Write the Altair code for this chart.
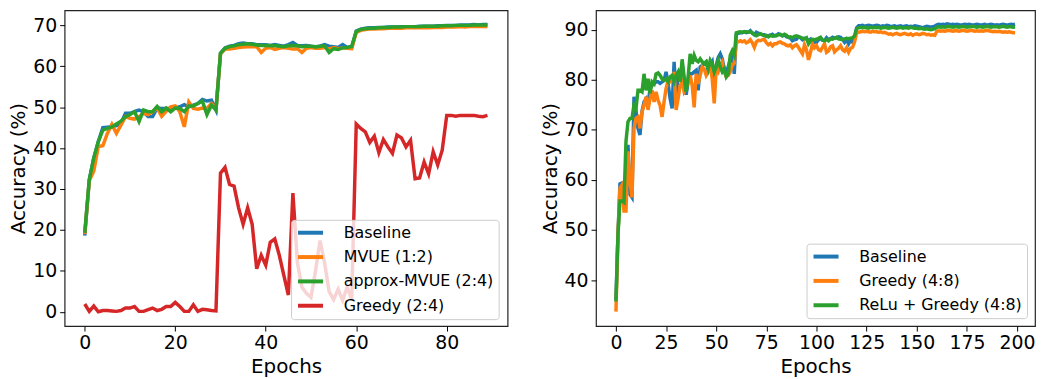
import altair as alt
import pandas as pd

# ---------------- Left panel data (90 epochs) ----------------
epochs_left = list(range(90))
names_left = ["Baseline", "MVUE (1:2)", "approx-MVUE (2:4)", "Greedy (2:4)"]
colors_left = ["#1f77b4", "#ff7f0e", "#2ca02c", "#d62728"]

baseline_left = [
    18.6, 32.3, 37.6, 41.6, 45.0, 45.1, 45.2, 45.5, 46.0, 48.5,
    48.5, 48.9, 49.3, 48.9, 47.7, 47.7, 49.8, 49.7, 49.7, 49.7,
    49.8, 50.1, 50.6, 50.1, 50.5, 50.9, 51.9, 51.5, 51.7, 49.3,
    63.2, 64.5, 64.9, 65.1, 65.5, 65.7, 65.5, 65.5, 65.3, 65.3,
    65.3, 65.1, 65.3, 65.1, 64.9, 65.3, 65.8, 65.1, 65.0, 65.1,
    64.9, 64.8, 64.9, 65.3, 64.9, 64.8, 64.6, 65.3, 64.6, 64.6,
    68.6, 69.1, 69.3, 69.4, 69.4, 69.5, 69.5, 69.6, 69.6, 69.6,
    69.7, 69.7, 69.7, 69.7, 69.8, 69.8, 69.8, 69.8, 69.9, 69.9,
    70.0, 70.0, 70.0, 70.1, 70.1, 70.1, 70.2, 70.1, 70.2, 70.2,
]
mvue_left = [
    19.0, 32.0, 34.4, 40.4, 40.6, 43.6, 45.8, 43.6, 45.6, 47.7,
    47.3, 47.1, 47.7, 48.5, 48.2, 48.9, 49.8, 47.8, 49.0, 50.1,
    50.3, 48.9, 45.2, 51.3, 49.7, 49.5, 49.8, 49.7, 50.9, 49.5,
    63.0, 64.2, 64.2, 64.4, 64.6, 64.7, 64.8, 64.8, 64.8, 63.4,
    64.4, 64.6, 64.1, 64.4, 64.6, 64.4, 64.2, 64.3, 63.4, 64.4,
    64.6, 64.4, 64.4, 64.6, 64.2, 64.6, 64.3, 64.5, 64.4, 64.3,
    68.3, 68.8, 69.0, 69.1, 69.1, 69.2, 69.2, 69.3, 69.3, 69.3,
    69.3, 69.4, 69.4, 69.4, 69.4, 69.5, 69.4, 69.5, 69.5, 69.5,
    69.6, 69.6, 69.6, 69.7, 69.6, 69.7, 69.7, 69.7, 69.7, 69.7,
]
approx_left = [
    19.3, 32.3, 37.6, 41.6, 44.4, 44.8, 45.2, 45.9, 46.6, 47.7,
    48.2, 48.9, 46.5, 49.3, 48.9, 48.9, 50.2, 48.9, 49.8, 48.9,
    49.8, 49.7, 48.9, 50.3, 50.3, 50.9, 51.5, 48.2, 50.5, 49.3,
    63.2, 64.4, 64.8, 65.0, 65.3, 65.4, 65.5, 65.4, 65.2, 65.1,
    65.1, 65.0, 65.1, 64.9, 64.8, 65.0, 65.1, 65.0, 64.8, 64.9,
    64.9, 64.7, 64.9, 65.0, 63.4, 64.3, 64.1, 64.5, 64.6, 64.9,
    68.5, 69.0, 69.2, 69.3, 69.3, 69.4, 69.5, 69.5, 69.6, 69.6,
    69.6, 69.7, 69.7, 69.7, 69.7, 69.8, 69.8, 69.8, 69.8, 69.9,
    69.9, 69.9, 70.0, 70.0, 70.0, 70.0, 70.1, 70.1, 70.1, 70.1,
]
greedy_left = [
    1.9, 0.1, 1.4, 0.0, 0.3, 0.3, 0.2, 0.1, 0.3, 0.9,
    0.9, 1.3, 0.1, 0.1, 0.5, 0.9, 0.3, 0.6, 1.3, 1.3,
    2.3, 1.3, 0.1, 0.1, 1.7, 0.1, 0.6, 0.5, 0.3, 0.2,
    33.9, 35.3, 31.1, 30.7, 25.4, 21.4, 25.4, 21.4, 10.5, 13.8,
    11.4, 17.0, 17.8, 13.8, 8.9, 4.1, 29.0, 12.0, 6.0, 4.5,
    3.5, 10.0, 17.4, 12.0, 5.0, 3.0, 5.5, 2.8, 6.0, 3.0,
    45.9, 44.8, 44.0, 41.4, 42.9, 38.9, 42.1, 40.3, 38.7, 43.2,
    42.5, 40.3, 41.9, 32.5, 32.7, 36.6, 33.7, 39.1, 35.9, 39.5,
    48.0, 48.0, 47.8, 48.0, 48.0, 48.0, 48.0, 47.8, 47.7, 48.0,
]

# ---------------- Right panel data (200 epochs) ----------------
epochs_right = list(range(200))
names_right = ["Baseline", "Greedy (4:8)", "ReLu + Greedy (4:8)"]
colors_right = ["#1f77b4", "#ff7f0e", "#2ca02c"]

baseline_right = [
    36.0, 49.0, 59.2, 59.4, 59.4, 56.0, 67.0, 57.1, 56.5, 76.6,
    73.7, 70.3, 69.0, 73.7, 75.6, 76.2, 75.0, 78.3, 78.9, 79.2,
    79.6, 79.6, 79.3, 79.6, 79.9, 81.6, 79.2, 76.3, 74.3, 83.6,
    76.3, 81.3, 79.9, 79.9, 79.6, 77.0, 79.6, 81.2, 81.2, 81.6,
    81.9, 77.9, 82.6, 82.9, 83.3, 83.6, 81.9, 82.9, 83.6, 79.6,
    82.9, 84.5, 85.2, 84.2, 82.2, 81.6, 82.6, 84.2, 84.9, 81.2,
    89.1, 89.3, 89.4, 89.4, 89.6, 89.4, 89.5, 89.8, 89.3, 89.0,
    89.5, 89.3, 89.2, 89.0, 89.0, 88.7, 88.8, 88.9, 89.1, 88.8,
    88.9, 89.2, 89.0, 88.8, 89.0, 88.6, 88.5, 88.3, 87.8, 88.0,
    88.1, 88.6, 88.4, 88.0, 88.3, 88.2, 87.8, 88.1, 87.2, 87.6,
    87.5, 88.0, 88.3, 87.9, 87.8, 88.4, 88.0, 88.2, 88.5, 88.3,
    88.4, 88.6, 88.5, 88.1, 87.5, 88.0, 87.2, 87.9, 87.5, 88.4,
    90.4, 90.8, 90.8, 90.9, 90.7, 90.8, 90.9, 90.8, 90.7, 90.8,
    90.9, 90.8, 90.6, 90.8, 90.7, 90.9, 90.8, 90.6, 90.7, 90.8,
    90.6, 90.7, 90.8, 90.6, 90.7, 90.8, 90.6, 90.7, 90.6, 90.8,
    90.7, 90.6, 90.5, 90.4, 90.6, 90.7, 90.6, 90.5, 90.6, 90.7,
    91.0, 91.1, 91.0, 91.1, 91.0, 91.2, 91.1, 91.0, 91.1, 91.0,
    91.1, 91.0, 90.9, 91.0, 91.1, 91.0, 91.1, 91.0, 90.9, 91.0,
    91.1, 91.0, 90.9, 91.0, 91.1, 90.9, 91.0, 91.1, 91.0, 90.9,
    91.0, 90.9, 91.0, 91.1, 91.0, 90.9, 91.0, 91.1, 91.0, 91.1,
]
greedy_right = [
    33.7, 49.0, 58.4, 59.0, 53.8, 53.8, 65.7, 59.7, 56.5, 70.3,
    72.3, 72.6, 70.3, 73.6, 74.9, 76.6, 74.0, 76.3, 77.9, 75.6,
    77.6, 75.9, 74.9, 72.6, 75.6, 78.3, 79.9, 79.6, 79.9, 81.6,
    74.0, 76.3, 78.9, 79.6, 77.6, 78.3, 79.6, 80.9, 78.9, 74.5,
    81.2, 79.2, 80.9, 82.6, 82.2, 80.9, 81.6, 82.9, 80.2, 75.3,
    82.2, 81.6, 82.9, 83.6, 81.6, 80.6, 80.9, 81.6, 82.9, 83.3,
    87.5, 87.6, 87.8, 87.6, 87.8, 87.4, 87.6, 88.0, 87.4, 86.5,
    87.6, 87.9, 87.8, 88.0, 88.1, 87.4, 87.0, 87.3, 86.8, 87.2,
    87.2, 87.5, 87.6, 87.3, 87.2, 86.9, 86.8, 87.0, 86.4, 86.8,
    87.0, 86.5, 85.8, 85.2, 87.0, 86.0, 84.0, 85.5, 87.2, 86.4,
    86.8, 86.0, 85.8, 86.5, 87.2, 85.5, 85.8, 86.6, 86.8, 85.6,
    86.0, 86.3, 86.8, 86.0, 85.7, 86.4, 85.5, 86.3, 86.5, 87.6,
    89.4, 89.5, 89.6, 89.7, 89.6, 89.7, 89.6, 89.5, 89.7, 89.6,
    89.6, 89.5, 89.6, 89.4, 89.5, 89.3, 89.1, 89.2, 89.0, 89.2,
    89.3, 89.1, 89.0, 89.2, 89.3, 89.1, 89.0, 89.2, 88.9, 89.1,
    89.2, 89.0, 89.1, 89.3, 89.2, 89.0, 89.1, 88.9, 89.0, 88.9,
    89.7, 89.8, 89.7, 89.8, 89.7, 89.8, 89.9, 89.8, 89.7, 89.8,
    89.8, 89.7, 89.8, 89.9, 89.8, 89.7, 89.8, 89.9, 89.8, 89.7,
    89.8, 89.7, 89.8, 89.7, 89.8, 89.9, 89.8, 89.7, 89.6, 89.7,
    89.6, 89.7, 89.6, 89.5, 89.6, 89.5, 89.6, 89.5, 89.4, 89.4,
]
relu_right = [
    35.7, 49.0, 55.8, 55.8, 55.5, 67.7, 71.6, 72.3, 72.3, 75.0,
    74.3, 77.9, 77.9, 77.6, 81.2, 77.9, 80.2, 77.3, 79.6, 79.2,
    81.2, 81.4, 80.9, 80.2, 79.9, 80.2, 79.6, 80.6, 80.9, 79.6,
    80.9, 81.6, 79.6, 84.1, 80.6, 77.6, 80.6, 85.2, 83.2, 84.9,
    83.9, 83.6, 84.2, 83.6, 83.2, 83.6, 82.2, 83.9, 83.2, 81.6,
    82.6, 83.9, 82.6, 81.6, 82.2, 80.6, 81.2, 84.9, 85.8, 84.9,
    89.4, 89.5, 89.6, 89.5, 89.6, 89.6, 89.5, 89.6, 89.4, 89.1,
    88.8, 89.0, 89.2, 89.0, 88.8, 88.9, 88.6, 88.9, 88.7, 88.8,
    88.8, 89.0, 89.1, 88.8, 89.1, 88.9, 88.5, 88.6, 88.4, 88.7,
    88.8, 88.6, 88.5, 88.3, 88.2, 88.4, 87.2, 87.8, 88.1, 88.0,
    88.1, 88.3, 88.5, 87.9, 87.8, 88.0, 87.8, 88.2, 88.1, 88.3,
    88.5, 88.2, 88.1, 88.0, 88.2, 88.3, 88.2, 88.3, 88.4, 88.8,
    90.2, 90.4, 90.5, 90.4, 90.5, 90.4, 90.3, 90.5, 90.4, 90.5,
    90.4, 90.5, 90.3, 90.4, 90.5, 90.4, 90.3, 90.4, 90.5, 90.4,
    90.3, 90.4, 90.5, 90.3, 90.4, 90.4, 90.3, 90.5, 90.4, 90.3,
    90.3, 90.2, 90.3, 90.2, 90.1, 90.2, 90.1, 90.0, 90.1, 90.2,
    90.5, 90.6, 90.5, 90.6, 90.5, 90.6, 90.7, 90.6, 90.5, 90.6,
    90.6, 90.5, 90.6, 90.7, 90.6, 90.5, 90.6, 90.6, 90.7, 90.6,
    90.5, 90.6, 90.6, 90.5, 90.6, 90.7, 90.6, 90.5, 90.6, 90.6,
    90.6, 90.5, 90.6, 90.7, 90.6, 90.5, 90.6, 90.6, 90.5, 90.6,
]

x_ticks_left = [0, 20, 40, 60, 80]
y_ticks_left = [0, 10, 20, 30, 40, 50, 60, 70]
x_ticks_right = [0, 25, 50, 75, 100, 125, 150, 175, 200]
y_ticks_right = [40, 50, 60, 70, 80, 90]

FONT = "DejaVu Sans"
# legend line glyph: a horizontal stroke drawn wider than its layout box
LEGEND_LINE = "M-1,0L3.2,0"


def long_df(epochs, names, series):
    rows = []
    for name, vals in zip(names, series):
        for e, v in zip(epochs, vals):
            rows.append({"epoch": e, "acc": v, "series": name})
    return pd.DataFrame(rows)


def panel(df, names, colors, xdom, ydom, xticks, yticks, lx, ly, w, h):
    layers = []
    for name in names:
        sub = df[df["series"] == name]
        layers.append(
            alt.Chart(sub).mark_line(strokeWidth=3.5, clip=True).encode(
                x=alt.X("epoch:Q",
                        scale=alt.Scale(domain=xdom, nice=False, zero=False),
                        axis=alt.Axis(values=xticks, title="Epochs", format="d")),
                y=alt.Y("acc:Q",
                        scale=alt.Scale(domain=ydom, nice=False, zero=False),
                        axis=alt.Axis(values=yticks, title="Accuracy (%)", format="d")),
                color=alt.Color("series:N",
                                scale=alt.Scale(domain=names, range=colors),
                                legend=alt.Legend(
                                    title=None, orient="none",
                                    legendX=lx, legendY=ly,
                                    symbolType=LEGEND_LINE, symbolSize=144,
                                    symbolStrokeWidth=4,
                                    labelFontSize=16, labelFont=FONT,
                                    labelColor="#000000", labelOffset=32,
                                    labelLimit=400,
                                    rowPadding=8.5, padding=5,
                                    fillColor="rgba(255,255,255,0.8)",
                                    strokeColor="#cccccc", cornerRadius=3)),
            )
        )
    return alt.layer(*layers).properties(width=w, height=h)


df_left = long_df(epochs_left, names_left,
                  [baseline_left, mvue_left, approx_left, greedy_left])
df_right = long_df(epochs_right, names_right,
                   [baseline_right, greedy_right, relu_right])

left = panel(df_left, names_left, colors_left, [-4.45, 93.45], [-3.5, 73.7],
             x_ticks_left, y_ticks_left, 228, 211, 446, 318)
right = panel(df_right, names_right, colors_right, [-9.95, 208.95], [30.8, 93.9],
              x_ticks_right, y_ticks_right, 212, 235, 442, 318)

chart = alt.hconcat(left, right, spacing=31).resolve_scale(
    color="independent").resolve_legend(color="independent").properties(
    padding={"left": 0, "top": 0, "right": 0, "bottom": 0}
).configure_view(
    stroke="#222222", strokeWidth=1.2
).configure_axis(
    labelFont=FONT, labelFontSize=19, labelColor="#000000",
    titleFont=FONT, titleFontSize=20, titleFontWeight="normal", titleColor="#000000",
    domain=False, grid=False, ticks=True, tickSize=5, tickColor="#000000",
    tickWidth=1, labelPadding=3, titlePadding=4, labelFlush=False,
    labelOverlap=False,
)

chart.save("out.html", embed_options={"renderer": "svg", "actions": False})
